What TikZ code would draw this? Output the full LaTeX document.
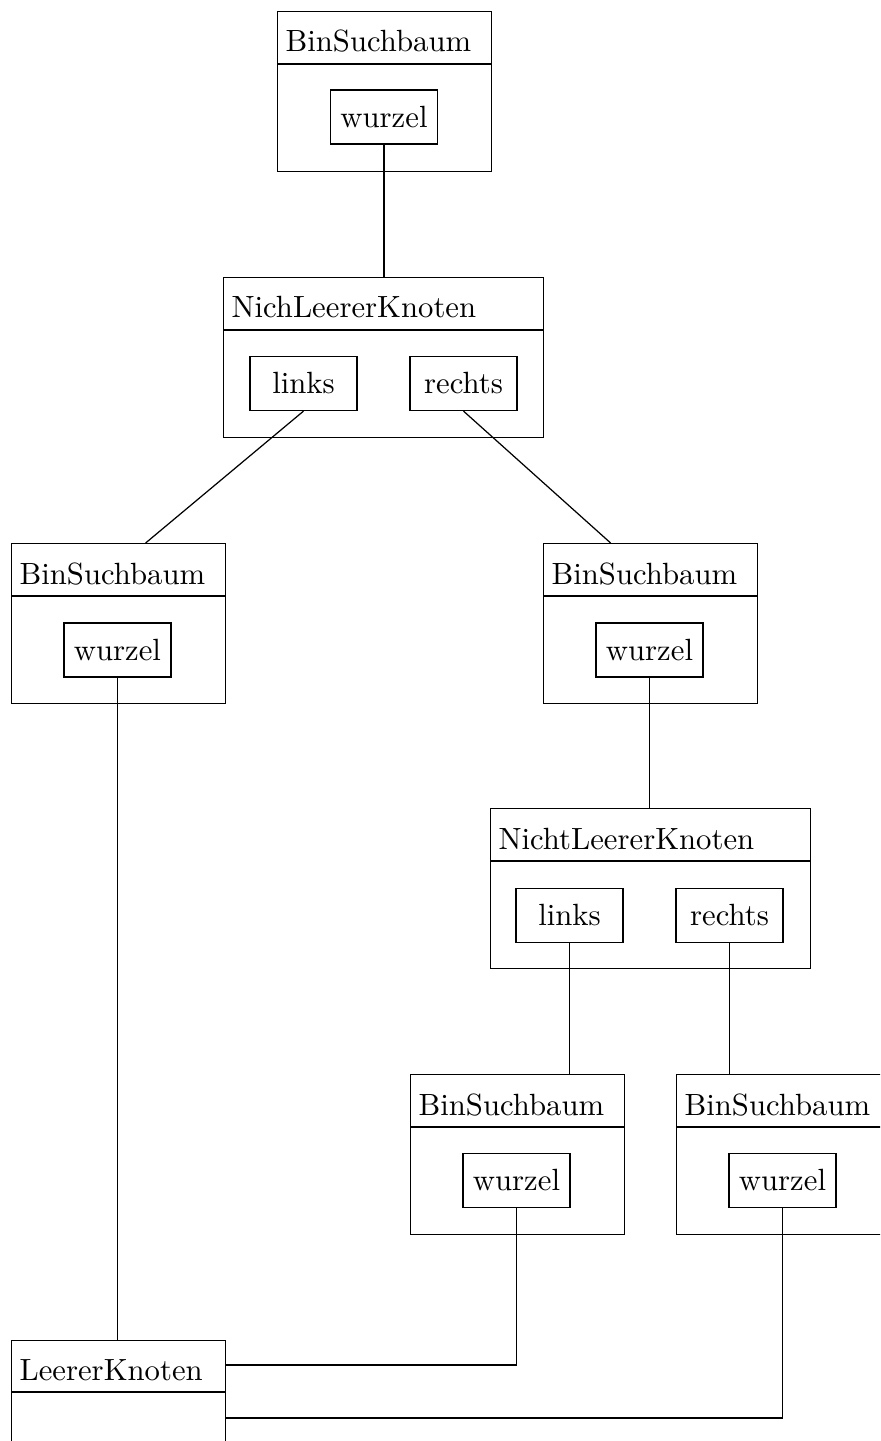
\documentclass[tikz,border=0pt]{standalone}
\newlength\pxu
\setlength\pxu{0.32573pt}
\begin{document}
\begin{tikzpicture}[x=\pxu, y=-\pxu,
  classbox/.style={draw, anchor=north west, inner sep=0pt,
    minimum width=214*\pxu, minimum height=160*\pxu},
  nodebox/.style={classbox, minimum width=320*\pxu},
  field/.style={draw, inner sep=0pt,
    minimum width=107*\pxu, minimum height=54*\pxu},
  title/.style={anchor=base west, inner sep=0pt}]
\clip (0,0) rectangle (880,1441);
\useasboundingbox (0,0) rectangle (880,1441);

% root object
\node[classbox] (b1) at (277,11) {};
\draw (277,64) -- (491,64);
\node[title] (b1t) at (285,52) {BinSuchbaum};
\node[field] (f1) at (384,117) {wurzel};

% first inner node
\node[nodebox] (k1) at (223,277) {};
\draw (223,330) -- (543,330);
\node[title] (k1t) at (231,318) {NichLeererKnoten};
\node[field] (k1l) at (303.5,383.5) {links};
\node[field] (k1r) at (463.5,383.5) {rechts};

% second level trees
\node[classbox] (b2) at (11,543) {};
\draw (11,596) -- (225,596);
\node[title] (b2t) at (19,584) {BinSuchbaum};
\node[field] (f2) at (117.5,650) {wurzel};

\node[classbox] (b3) at (543,543) {};
\draw (543,596) -- (757,596);
\node[title] (b3t) at (551,584) {BinSuchbaum};
\node[field] (f3) at (649.5,650) {wurzel};

% second inner node
\node[nodebox] (k2) at (490,808) {};
\draw (490,861) -- (810,861);
\node[title] (k2t) at (498,849) {NichtLeererKnoten};
\node[field] (k2l) at (569.5,915.5) {links};
\node[field] (k2r) at (729.5,915.5) {rechts};

% third level trees
\node[classbox] (b4) at (410,1074) {};
\draw (410,1127) -- (624,1127);
\node[title] (b4t) at (418,1115) {BinSuchbaum};
\node[field] (f4) at (516.5,1180.5) {wurzel};

\node[classbox] (b5) at (676,1074) {};
\draw (676,1127) -- (890,1127);
\node[title] (b5t) at (684,1115) {BinSuchbaum};
\node[field] (f5) at (782.5,1180.5) {wurzel};

% empty node
\node[classbox] (l1) at (11,1340) {};
\draw (11,1392) -- (225,1392);
\node[title] (l1t) at (19,1380) {LeererKnoten};

% references
\draw (f1.south) -- (f1.south |- k1.north);
\draw (k1l.south) -- ([xshift=27*\pxu]b2.north);
\draw (k1r.south) -- ([xshift=-40*\pxu]b3.north);
\draw (f2.south) -- (f2.south |- l1.north);
\draw (f3.south) -- (f3.south |- k2.north);
\draw (k2l.south) -- (k2l.south |- b4.north);
\draw (k2r.south) -- (k2r.south |- b5.north);
\draw (f4.south) |- ([yshift=-25*\pxu]l1.north east);
\draw (f5.south) |- ([yshift=-78*\pxu]l1.north east);
\end{tikzpicture}
\end{document}
